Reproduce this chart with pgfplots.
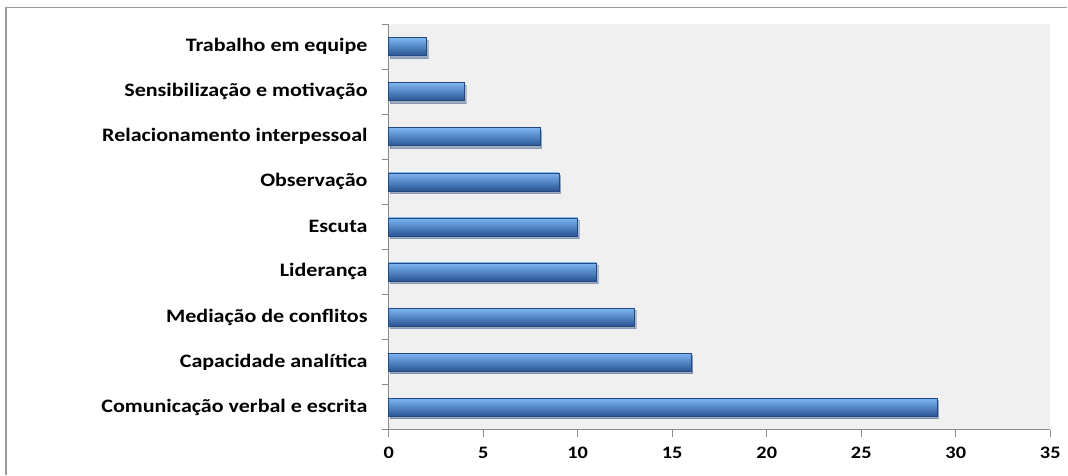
\documentclass[border=0pt]{standalone}
\usepackage{pgfplots}
\pgfplotsset{compat=1.18}
\usetikzlibrary{shadows}
\usepackage{fontspec}
\setmainfont{Carlito}
\newfontfamily\lab{Carlito}[FakeStretch=1.16]
\definecolor{bgray}{HTML}{F0F0F0}
\definecolor{framegray}{HTML}{9A9A9A}
\definecolor{axgray}{HTML}{8C8C8C}
\definecolor{bartop}{HTML}{7DB6F2}
\definecolor{barmid}{HTML}{3A7ACD}
\definecolor{barbot}{HTML}{2A5494}
\definecolor{barline}{HTML}{24497F}
\pgfplotsset{mybar/.style={draw=barline, line width=0.5bp, top color=bartop, middle color=barmid, bottom color=barbot,
    drop shadow={shadow xshift=1.5bp, shadow yshift=-2.5bp, opacity=0.3}}}
\begin{document}
\begin{tikzpicture}
\path (0,0) rectangle (1068bp,475bp);
\draw[framegray, line width=1.5bp] (6bp,0) -- (6bp,467.5bp) -- (1068bp,467.5bp);
\begin{axis}[
  at={(389bp,45bp)}, anchor=south west,
  width=662bp, height=406bp, scale only axis,
  xmin=0, xmax=35, ymin=-0.5, ymax=8.5,
  xbar, bar width=18bp, bar shift=0pt,
  axis x line*=bottom, axis y line*=left,
  axis line style={draw=axgray, line width=0.8bp, -},
  axis background/.style={fill=bgray},
  tick align=outside,
  major tick length=7bp,
  tick style={draw=axgray, line width=0.8bp},
  xtick={0,5,...,35},
  ytick={-0.5,0.5,...,8.5},
  yticklabels={},
  extra y ticks={0,1,2,3,4,5,6,7,8},
  extra y tick labels={Comunicação verbal e escrita, Capacidade analítica, Mediação de conflitos, Liderança , Escuta , Observação, Relacionamento interpessoal, Sensibilização e motivação, Trabalho em equipe},
  extra y tick style={major tick length=0pt, tick style={draw=none},
    yticklabel style={anchor=east, inner sep=0pt, xshift=-21bp}},
  yticklabel style={font=\lab\bfseries\fontsize{19bp}{22bp}\selectfont},
  xticklabel style={font=\lab\bfseries\fontsize{17.5bp}{20bp}\selectfont, anchor=north, inner sep=0pt, yshift=-10bp},
  /pgf/number format/assume math mode=true,
  clip=false,
]
\addplot[mybar] coordinates {(29,0)};
\addplot[mybar] coordinates {(16,1)};
\addplot[mybar] coordinates {(13,2)};
\addplot[mybar] coordinates {(11,3)};
\addplot[mybar] coordinates {(10,4)};
\addplot[mybar] coordinates {(9,5)};
\addplot[mybar] coordinates {(8,6)};
\addplot[mybar] coordinates {(4,7)};
\addplot[mybar] coordinates {(2,8)};
\end{axis}
\end{tikzpicture}
\end{document}
